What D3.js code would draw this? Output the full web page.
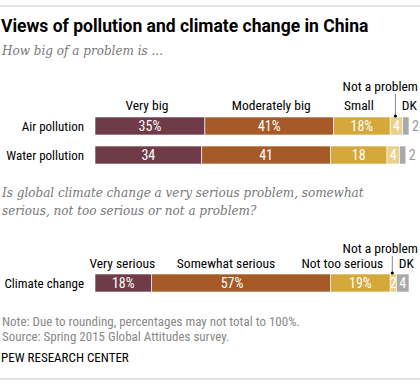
<!DOCTYPE html>
<html><head><meta charset="utf-8">
<script src="https://cdn.jsdelivr.net/npm/d3@7"></script>
<style>
body{margin:0;background:#fff;}
svg{display:block;}
</style></head>
<body><div id="chart"></div>
<script>
// ---- data ----
const pollutionCategories = ["Very big","Moderately big","Small","Not a problem","DK"];
const pollutionRows = ["Air pollution","Water pollution"];
const airValues = [35,41,18,4,2];
const waterValues = [34,41,18,4,2];
const airLabels = ["35%","41%","18%","4","2"];
const waterLabels = ["34","41","18","4","2"];

const climateCategories = ["Very serious","Somewhat serious","Not too serious","Not a problem","DK"];
const climateRows = ["Climate change"];
const climateValues = [18,57,19,2,4];
const climateLabels = ["18%","57%","19%","2","4"];

const colors = ["#6f3b48","#a65a28","#d4a83a","#e9d08c","#a8a9ad"];

const W = 420, H = 386;
const svg = d3.select("#chart").append("svg").attr("width",W).attr("height",H);
const sans = "'Liberation Sans Narrow','Roboto Condensed',Roboto,Arial,sans-serif";
const serif = "'DejaVu Serif',Georgia,serif";
const x = d3.scaleLinear().domain([0,100]).range([95,409]);

// rules
svg.append("line").attr("x1",0).attr("x2",W).attr("y1",6).attr("y2",6).attr("stroke","#c8c8c8");
svg.append("line").attr("x1",0).attr("x2",W).attr("y1",379).attr("y2",379).attr("stroke","#c8c8c8");

svg.append("text").attr("x",1).attr("y",32).text("Views of pollution and climate change in China")
  .attr("font-family","Roboto,Arial,sans-serif").attr("font-weight","bold").attr("font-size",17.5).attr("fill","#000");
svg.append("text").attr("x",2).attr("y",55).text("How big of a problem is ...")
  .attr("font-family",serif).attr("font-style","italic").attr("font-size",12).attr("fill","#777");

const q2 = ["Is global climate change a very serious problem, somewhat","serious, not too serious or not a problem?"];
svg.append("g").selectAll("text").data(q2).join("text")
  .attr("x",2).attr("y",(d,i)=>197+i*18).text(d=>d)
  .attr("font-family",serif).attr("font-style","italic").attr("font-size",12).attr("fill","#777");

function drawBlock(rows, valuesList, labelsList, cats, y, headY, napY, catDx, valDx, dkOutside){
  const g = svg.append("g");
  rows.forEach((r,ri)=>{
    const vals = valuesList[ri], labs = labelsList[ri];
    const yy = y(r);
    const starts = vals.map((v,i)=>d3.sum(vals.slice(0,i)));
    g.append("text").attr("x",84).attr("y",yy+y.bandwidth()/2+5).attr("text-anchor","end")
      .text(r).attr("font-family",sans).attr("font-size",13).attr("fill","#000");
    g.selectAll(null).data(vals).join("rect")
      .attr("x",(d,i)=>x(starts[i])).attr("width",d=>x(d)-x(0))
      .attr("y",yy).attr("height",y.bandwidth()).attr("fill",(d,i)=>colors[i])
      .attr("stroke","#fff").attr("stroke-width",0.6);
    g.selectAll(null).data(vals).join("text")
      .attr("x",(d,i)=> i===4 && dkOutside ? x(starts[i]+d)+3 : x(starts[i]+d/2)+(valDx[i]||0))
      .attr("y",yy+y.bandwidth()/2+5)
      .attr("text-anchor",(d,i)=> i===4 && dkOutside ? "start":"middle")
      .attr("fill",(d,i)=> i===4 && dkOutside ? "#999" : "#fff")
      .attr("font-family",sans).attr("font-size",14)
      .text((d,i)=>labs[i]);
    if(ri===0){
      [0,1,2].forEach(i=>{
        g.append("text").attr("x",x(starts[i]+vals[i]/2)+catDx[i]).attr("y",headY).attr("text-anchor","middle")
          .text(cats[i]).attr("font-family",sans).attr("font-size",13.5).attr("fill","#000");
      });
      g.append("text").attr("x",x(starts[4]+vals[4]/2)+3.5).attr("y",headY).attr("text-anchor","middle")
        .text(cats[4]).attr("font-family",sans).attr("font-size",13.5).attr("fill","#000");
      g.append("text").attr("x",418).attr("y",napY).attr("text-anchor","end")
        .text(cats[3]).attr("font-family",sans).attr("font-size",13.5).attr("fill","#000");
      const lx = x(starts[3]+vals[3]/2)-1;
      g.append("line").attr("x1",lx).attr("x2",lx).attr("y1",napY+3).attr("y2",yy-1).attr("stroke","#888").attr("stroke-width",1);
      g.append("circle").attr("cx",lx).attr("cy",yy-1).attr("r",1.6).attr("fill","#000");
    }
  });
}

const yP = d3.scaleBand().domain(pollutionRows).range([117,164]).paddingInner(0.38).paddingOuter(0);
const yC = d3.scaleBand().domain(climateRows).range([274,292]);
drawBlock(pollutionRows,[airValues,waterValues],[airLabels,waterLabels],pollutionCategories,yP,110,91,[-3,2,-3],[0,0,0,0,0],true);
drawBlock(climateRows,[climateValues],[climateLabels],climateCategories,yC,268,253,[-1,-15,-18],[0,-9,0,0,0],false);

const notes = ["Note: Due to rounding, percentages may not total to 100%.","Source: Spring 2015 Global Attitudes survey."];
svg.append("g").selectAll("text").data(notes).join("text")
  .attr("x",2).attr("y",(d,i)=>326+i*14.5).text(d=>d)
  .attr("font-family",sans).attr("font-size",13).attr("fill","#888");
svg.append("text").attr("x",1).attr("y",362).text("PEW RESEARCH CENTER")
  .attr("font-family",sans).attr("font-size",13).attr("fill","#000");
</script></body></html>
